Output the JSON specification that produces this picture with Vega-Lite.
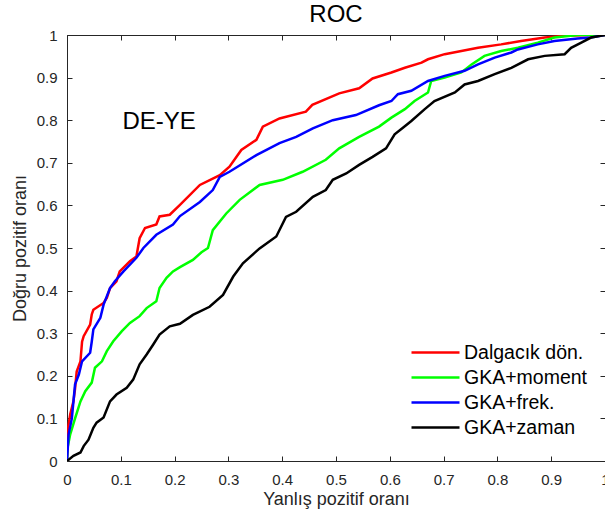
{
  "$schema": "https://vega.github.io/schema/vega-lite/v6.json",
  "width": 538,
  "height": 426,
  "autosize": {"type": "none"},
  "padding": {"left": 67, "top": 35, "right": 0, "bottom": 56},
  "background": "white",
  "config": {"font": "Liberation Sans", "view": {"stroke": "#262626", "strokeWidth": 1}},
  "title": {"text": "ROC", "fontSize": 24, "font": "Liberation Sans", "fontWeight": "normal", "color": "#000000", "offset": -18, "anchor": "middle", "baseline": "alphabetic"},
  "datasets": {
    "roc": [
      {"m": "Dalgacık dön.", "x": 0, "y": 0}, {"m": "Dalgacık dön.", "x": 0.001, "y": 0.07}, {"m": "Dalgacık dön.", "x": 0.006, "y": 0.11}, {"m": "Dalgacık dön.", "x": 0.012, "y": 0.14}, {"m": "Dalgacık dön.", "x": 0.015, "y": 0.17}, {"m": "Dalgacık dön.", "x": 0.018, "y": 0.21}, {"m": "Dalgacık dön.", "x": 0.025, "y": 0.234}, {"m": "Dalgacık dön.", "x": 0.028, "y": 0.28}, {"m": "Dalgacık dön.", "x": 0.031, "y": 0.293}, {"m": "Dalgacık dön.", "x": 0.043, "y": 0.32}, {"m": "Dalgacık dön.", "x": 0.046, "y": 0.344}, {"m": "Dalgacık dön.", "x": 0.049, "y": 0.355}, {"m": "Dalgacık dön.", "x": 0.068, "y": 0.371}, {"m": "Dalgacık dön.", "x": 0.074, "y": 0.383}, {"m": "Dalgacık dön.", "x": 0.08, "y": 0.406}, {"m": "Dalgacık dön.", "x": 0.092, "y": 0.422}, {"m": "Dalgacık dön.", "x": 0.098, "y": 0.445}, {"m": "Dalgacık dön.", "x": 0.117, "y": 0.469}, {"m": "Dalgacık dön.", "x": 0.129, "y": 0.48}, {"m": "Dalgacık dön.", "x": 0.135, "y": 0.523}, {"m": "Dalgacık dön.", "x": 0.145, "y": 0.547}, {"m": "Dalgacık dön.", "x": 0.166, "y": 0.555}, {"m": "Dalgacık dön.", "x": 0.172, "y": 0.574}, {"m": "Dalgacık dön.", "x": 0.191, "y": 0.578}, {"m": "Dalgacık dön.", "x": 0.209, "y": 0.6}, {"m": "Dalgacık dön.", "x": 0.247, "y": 0.648}, {"m": "Dalgacık dön.", "x": 0.284, "y": 0.671}, {"m": "Dalgacık dön.", "x": 0.302, "y": 0.691}, {"m": "Dalgacık dön.", "x": 0.324, "y": 0.73}, {"m": "Dalgacık dön.", "x": 0.352, "y": 0.754}, {"m": "Dalgacık dön.", "x": 0.364, "y": 0.785}, {"m": "Dalgacık dön.", "x": 0.395, "y": 0.804}, {"m": "Dalgacık dön.", "x": 0.444, "y": 0.82}, {"m": "Dalgacık dön.", "x": 0.456, "y": 0.836}, {"m": "Dalgacık dön.", "x": 0.506, "y": 0.863}, {"m": "Dalgacık dön.", "x": 0.543, "y": 0.875}, {"m": "Dalgacık dön.", "x": 0.568, "y": 0.898}, {"m": "Dalgacık dön.", "x": 0.603, "y": 0.912}, {"m": "Dalgacık dön.", "x": 0.628, "y": 0.923}, {"m": "Dalgacık dön.", "x": 0.659, "y": 0.935}, {"m": "Dalgacık dön.", "x": 0.671, "y": 0.943}, {"m": "Dalgacık dön.", "x": 0.702, "y": 0.955}, {"m": "Dalgacık dön.", "x": 0.733, "y": 0.9625}, {"m": "Dalgacık dön.", "x": 0.764, "y": 0.97}, {"m": "Dalgacık dön.", "x": 0.807, "y": 0.978}, {"m": "Dalgacık dön.", "x": 0.844, "y": 0.986}, {"m": "Dalgacık dön.", "x": 0.888, "y": 0.994}, {"m": "Dalgacık dön.", "x": 0.925, "y": 0.998}, {"m": "Dalgacık dön.", "x": 0.974, "y": 1.0}, {"m": "Dalgacık dön.", "x": 1, "y": 1},

      {"m": "GKA+moment", "x": 0, "y": 0}, {"m": "GKA+moment", "x": 0.001, "y": 0.031}, {"m": "GKA+moment", "x": 0.006, "y": 0.0625}, {"m": "GKA+moment", "x": 0.015, "y": 0.1}, {"m": "GKA+moment", "x": 0.025, "y": 0.14}, {"m": "GKA+moment", "x": 0.034, "y": 0.164}, {"m": "GKA+moment", "x": 0.046, "y": 0.184}, {"m": "GKA+moment", "x": 0.052, "y": 0.219}, {"m": "GKA+moment", "x": 0.065, "y": 0.234}, {"m": "GKA+moment", "x": 0.074, "y": 0.258}, {"m": "GKA+moment", "x": 0.086, "y": 0.281}, {"m": "GKA+moment", "x": 0.102, "y": 0.305}, {"m": "GKA+moment", "x": 0.117, "y": 0.324}, {"m": "GKA+moment", "x": 0.135, "y": 0.34}, {"m": "GKA+moment", "x": 0.148, "y": 0.359}, {"m": "GKA+moment", "x": 0.166, "y": 0.375}, {"m": "GKA+moment", "x": 0.172, "y": 0.406}, {"m": "GKA+moment", "x": 0.185, "y": 0.43}, {"m": "GKA+moment", "x": 0.197, "y": 0.445}, {"m": "GKA+moment", "x": 0.21, "y": 0.455}, {"m": "GKA+moment", "x": 0.234, "y": 0.472}, {"m": "GKA+moment", "x": 0.25, "y": 0.49}, {"m": "GKA+moment", "x": 0.262, "y": 0.5}, {"m": "GKA+moment", "x": 0.271, "y": 0.542}, {"m": "GKA+moment", "x": 0.296, "y": 0.581}, {"m": "GKA+moment", "x": 0.321, "y": 0.613}, {"m": "GKA+moment", "x": 0.358, "y": 0.648}, {"m": "GKA+moment", "x": 0.401, "y": 0.66}, {"m": "GKA+moment", "x": 0.438, "y": 0.679}, {"m": "GKA+moment", "x": 0.481, "y": 0.707}, {"m": "GKA+moment", "x": 0.506, "y": 0.734}, {"m": "GKA+moment", "x": 0.543, "y": 0.761}, {"m": "GKA+moment", "x": 0.58, "y": 0.785}, {"m": "GKA+moment", "x": 0.603, "y": 0.806}, {"m": "GKA+moment", "x": 0.628, "y": 0.826}, {"m": "GKA+moment", "x": 0.646, "y": 0.845}, {"m": "GKA+moment", "x": 0.671, "y": 0.865}, {"m": "GKA+moment", "x": 0.677, "y": 0.892}, {"m": "GKA+moment", "x": 0.702, "y": 0.9}, {"m": "GKA+moment", "x": 0.733, "y": 0.912}, {"m": "GKA+moment", "x": 0.752, "y": 0.931}, {"m": "GKA+moment", "x": 0.776, "y": 0.951}, {"m": "GKA+moment", "x": 0.807, "y": 0.9625}, {"m": "GKA+moment", "x": 0.838, "y": 0.97}, {"m": "GKA+moment", "x": 0.875, "y": 0.982}, {"m": "GKA+moment", "x": 0.906, "y": 0.994}, {"m": "GKA+moment", "x": 0.949, "y": 1.0}, {"m": "GKA+moment", "x": 1, "y": 1},

      {"m": "GKA+frek.", "x": 0, "y": 0}, {"m": "GKA+frek.", "x": 0.003, "y": 0.0625}, {"m": "GKA+frek.", "x": 0.009, "y": 0.1}, {"m": "GKA+frek.", "x": 0.015, "y": 0.18}, {"m": "GKA+frek.", "x": 0.022, "y": 0.203}, {"m": "GKA+frek.", "x": 0.028, "y": 0.234}, {"m": "GKA+frek.", "x": 0.043, "y": 0.254}, {"m": "GKA+frek.", "x": 0.046, "y": 0.28}, {"m": "GKA+frek.", "x": 0.049, "y": 0.309}, {"m": "GKA+frek.", "x": 0.062, "y": 0.336}, {"m": "GKA+frek.", "x": 0.068, "y": 0.367}, {"m": "GKA+frek.", "x": 0.08, "y": 0.406}, {"m": "GKA+frek.", "x": 0.089, "y": 0.422}, {"m": "GKA+frek.", "x": 0.105, "y": 0.445}, {"m": "GKA+frek.", "x": 0.129, "y": 0.477}, {"m": "GKA+frek.", "x": 0.142, "y": 0.5}, {"m": "GKA+frek.", "x": 0.166, "y": 0.531}, {"m": "GKA+frek.", "x": 0.197, "y": 0.555}, {"m": "GKA+frek.", "x": 0.21, "y": 0.575}, {"m": "GKA+frek.", "x": 0.247, "y": 0.608}, {"m": "GKA+frek.", "x": 0.271, "y": 0.636}, {"m": "GKA+frek.", "x": 0.284, "y": 0.667}, {"m": "GKA+frek.", "x": 0.302, "y": 0.679}, {"m": "GKA+frek.", "x": 0.352, "y": 0.718}, {"m": "GKA+frek.", "x": 0.395, "y": 0.746}, {"m": "GKA+frek.", "x": 0.426, "y": 0.761}, {"m": "GKA+frek.", "x": 0.457, "y": 0.781}, {"m": "GKA+frek.", "x": 0.494, "y": 0.8}, {"m": "GKA+frek.", "x": 0.537, "y": 0.812}, {"m": "GKA+frek.", "x": 0.58, "y": 0.835}, {"m": "GKA+frek.", "x": 0.603, "y": 0.845}, {"m": "GKA+frek.", "x": 0.615, "y": 0.861}, {"m": "GKA+frek.", "x": 0.64, "y": 0.869}, {"m": "GKA+frek.", "x": 0.671, "y": 0.892}, {"m": "GKA+frek.", "x": 0.702, "y": 0.904}, {"m": "GKA+frek.", "x": 0.739, "y": 0.916}, {"m": "GKA+frek.", "x": 0.764, "y": 0.931}, {"m": "GKA+frek.", "x": 0.795, "y": 0.947}, {"m": "GKA+frek.", "x": 0.826, "y": 0.959}, {"m": "GKA+frek.", "x": 0.838, "y": 0.966}, {"m": "GKA+frek.", "x": 0.875, "y": 0.978}, {"m": "GKA+frek.", "x": 0.906, "y": 0.986}, {"m": "GKA+frek.", "x": 0.949, "y": 0.992}, {"m": "GKA+frek.", "x": 0.974, "y": 0.994}, {"m": "GKA+frek.", "x": 1, "y": 1},

      {"m": "GKA+zaman", "x": 0, "y": 0}, {"m": "GKA+zaman", "x": 0.012, "y": 0.012}, {"m": "GKA+zaman", "x": 0.025, "y": 0.02}, {"m": "GKA+zaman", "x": 0.031, "y": 0.035}, {"m": "GKA+zaman", "x": 0.04, "y": 0.05}, {"m": "GKA+zaman", "x": 0.049, "y": 0.078}, {"m": "GKA+zaman", "x": 0.055, "y": 0.09}, {"m": "GKA+zaman", "x": 0.068, "y": 0.102}, {"m": "GKA+zaman", "x": 0.08, "y": 0.14}, {"m": "GKA+zaman", "x": 0.092, "y": 0.156}, {"m": "GKA+zaman", "x": 0.111, "y": 0.172}, {"m": "GKA+zaman", "x": 0.123, "y": 0.191}, {"m": "GKA+zaman", "x": 0.135, "y": 0.227}, {"m": "GKA+zaman", "x": 0.148, "y": 0.25}, {"m": "GKA+zaman", "x": 0.16, "y": 0.273}, {"m": "GKA+zaman", "x": 0.172, "y": 0.297}, {"m": "GKA+zaman", "x": 0.191, "y": 0.316}, {"m": "GKA+zaman", "x": 0.21, "y": 0.322}, {"m": "GKA+zaman", "x": 0.234, "y": 0.343}, {"m": "GKA+zaman", "x": 0.265, "y": 0.362}, {"m": "GKA+zaman", "x": 0.29, "y": 0.39}, {"m": "GKA+zaman", "x": 0.309, "y": 0.433}, {"m": "GKA+zaman", "x": 0.327, "y": 0.464}, {"m": "GKA+zaman", "x": 0.358, "y": 0.499}, {"m": "GKA+zaman", "x": 0.389, "y": 0.527}, {"m": "GKA+zaman", "x": 0.407, "y": 0.573}, {"m": "GKA+zaman", "x": 0.426, "y": 0.585}, {"m": "GKA+zaman", "x": 0.457, "y": 0.62}, {"m": "GKA+zaman", "x": 0.481, "y": 0.636}, {"m": "GKA+zaman", "x": 0.494, "y": 0.66}, {"m": "GKA+zaman", "x": 0.519, "y": 0.675}, {"m": "GKA+zaman", "x": 0.543, "y": 0.695}, {"m": "GKA+zaman", "x": 0.568, "y": 0.714}, {"m": "GKA+zaman", "x": 0.593, "y": 0.734}, {"m": "GKA+zaman", "x": 0.609, "y": 0.767}, {"m": "GKA+zaman", "x": 0.625, "y": 0.783}, {"m": "GKA+zaman", "x": 0.64, "y": 0.798}, {"m": "GKA+zaman", "x": 0.665, "y": 0.826}, {"m": "GKA+zaman", "x": 0.683, "y": 0.845}, {"m": "GKA+zaman", "x": 0.721, "y": 0.865}, {"m": "GKA+zaman", "x": 0.739, "y": 0.884}, {"m": "GKA+zaman", "x": 0.764, "y": 0.892}, {"m": "GKA+zaman", "x": 0.795, "y": 0.908}, {"m": "GKA+zaman", "x": 0.826, "y": 0.923}, {"m": "GKA+zaman", "x": 0.857, "y": 0.943}, {"m": "GKA+zaman", "x": 0.888, "y": 0.951}, {"m": "GKA+zaman", "x": 0.925, "y": 0.955}, {"m": "GKA+zaman", "x": 0.937, "y": 0.97}, {"m": "GKA+zaman", "x": 0.956, "y": 0.982}, {"m": "GKA+zaman", "x": 0.974, "y": 0.994}, {"m": "GKA+zaman", "x": 1, "y": 1}
    ],
    "note": [{"x": 0.103, "y": 0.779, "label": "DE-YE"}]
  },
  "layer": [
    {
      "data": {"name": "roc"},
      "mark": {"type": "line", "strokeWidth": 2.5, "clip": true},
      "encoding": {
        "x": {
          "field": "x", "type": "quantitative",
          "scale": {"domain": [0, 1], "nice": false, "zero": false},
          "axis": {
            "orient": "bottom", "title": "Yanlış pozitif oranı",
            "values": [0, 0.1, 0.2, 0.3, 0.4, 0.5, 0.6, 0.7, 0.8, 0.9, 1], "format": "~g",
            "grid": false, "tickSize": -5, "tickColor": "#262626", "domainColor": "#262626",
            "labelFontSize": 15, "labelColor": "#262626", "labelPadding": 16, "labelFlush": false, "labelOverlap": false,
            "titleFontSize": 18, "titleFontWeight": "normal", "titleColor": "#262626", "titlePadding": 3
          }
        },
        "y": {
          "field": "y", "type": "quantitative",
          "scale": {"domain": [0, 1], "nice": false, "zero": false},
          "axis": {
            "orient": "left", "title": "Doğru pozitif oranı",
            "values": [0, 0.1, 0.2, 0.3, 0.4, 0.5, 0.6, 0.7, 0.8, 0.9, 1], "format": "~g",
            "grid": false, "tickSize": -5, "tickColor": "#262626", "domainColor": "#262626",
            "labelFontSize": 15, "labelColor": "#262626", "labelPadding": 15, "labelFlush": false, "labelOverlap": false,
            "titleFontSize": 18, "titleFontWeight": "normal", "titleColor": "#262626", "titlePadding": 7
          }
        },
        "color": {
          "field": "m", "type": "nominal",
          "scale": {"domain": ["Dalgacık dön.", "GKA+moment", "GKA+frek.", "GKA+zaman"], "range": ["#ff0000", "#00ff00", "#0000ff", "#000000"]},
          "legend": {
            "orient": "none", "legendX": 357, "legendY": 306, "title": null,
            "symbolType": "M-2.4,0H2.4", "symbolSize": 400, "symbolStrokeWidth": 2.5,
            "labelFontSize": 19.5, "labelColor": "#000000", "labelOffset": 17, "rowPadding": 4, "padding": 0
          }
        }
      }
    },
    {
      "data": {"name": "note"},
      "mark": {"type": "text", "align": "left", "baseline": "alphabetic", "fontSize": 24, "color": "#000000"},
      "encoding": {
        "x": {"field": "x", "type": "quantitative", "scale": {"domain": [0, 1], "nice": false, "zero": false},
          "axis": {"orient": "top", "title": null, "labels": false, "domain": false, "grid": false, "tickSize": -5, "tickColor": "#262626", "values": [0, 0.1, 0.2, 0.3, 0.4, 0.5, 0.6, 0.7, 0.8, 0.9, 1]}},
        "y": {"field": "y", "type": "quantitative", "scale": {"domain": [0, 1], "nice": false, "zero": false},
          "axis": {"orient": "right", "title": null, "labels": false, "domain": false, "grid": false, "tickSize": -5, "tickColor": "#262626", "values": [0, 0.1, 0.2, 0.3, 0.4, 0.5, 0.6, 0.7, 0.8, 0.9, 1]}},
        "text": {"field": "label"}
      }
    }
  ],
  "resolve": {"axis": {"x": "independent", "y": "independent"}}
}
